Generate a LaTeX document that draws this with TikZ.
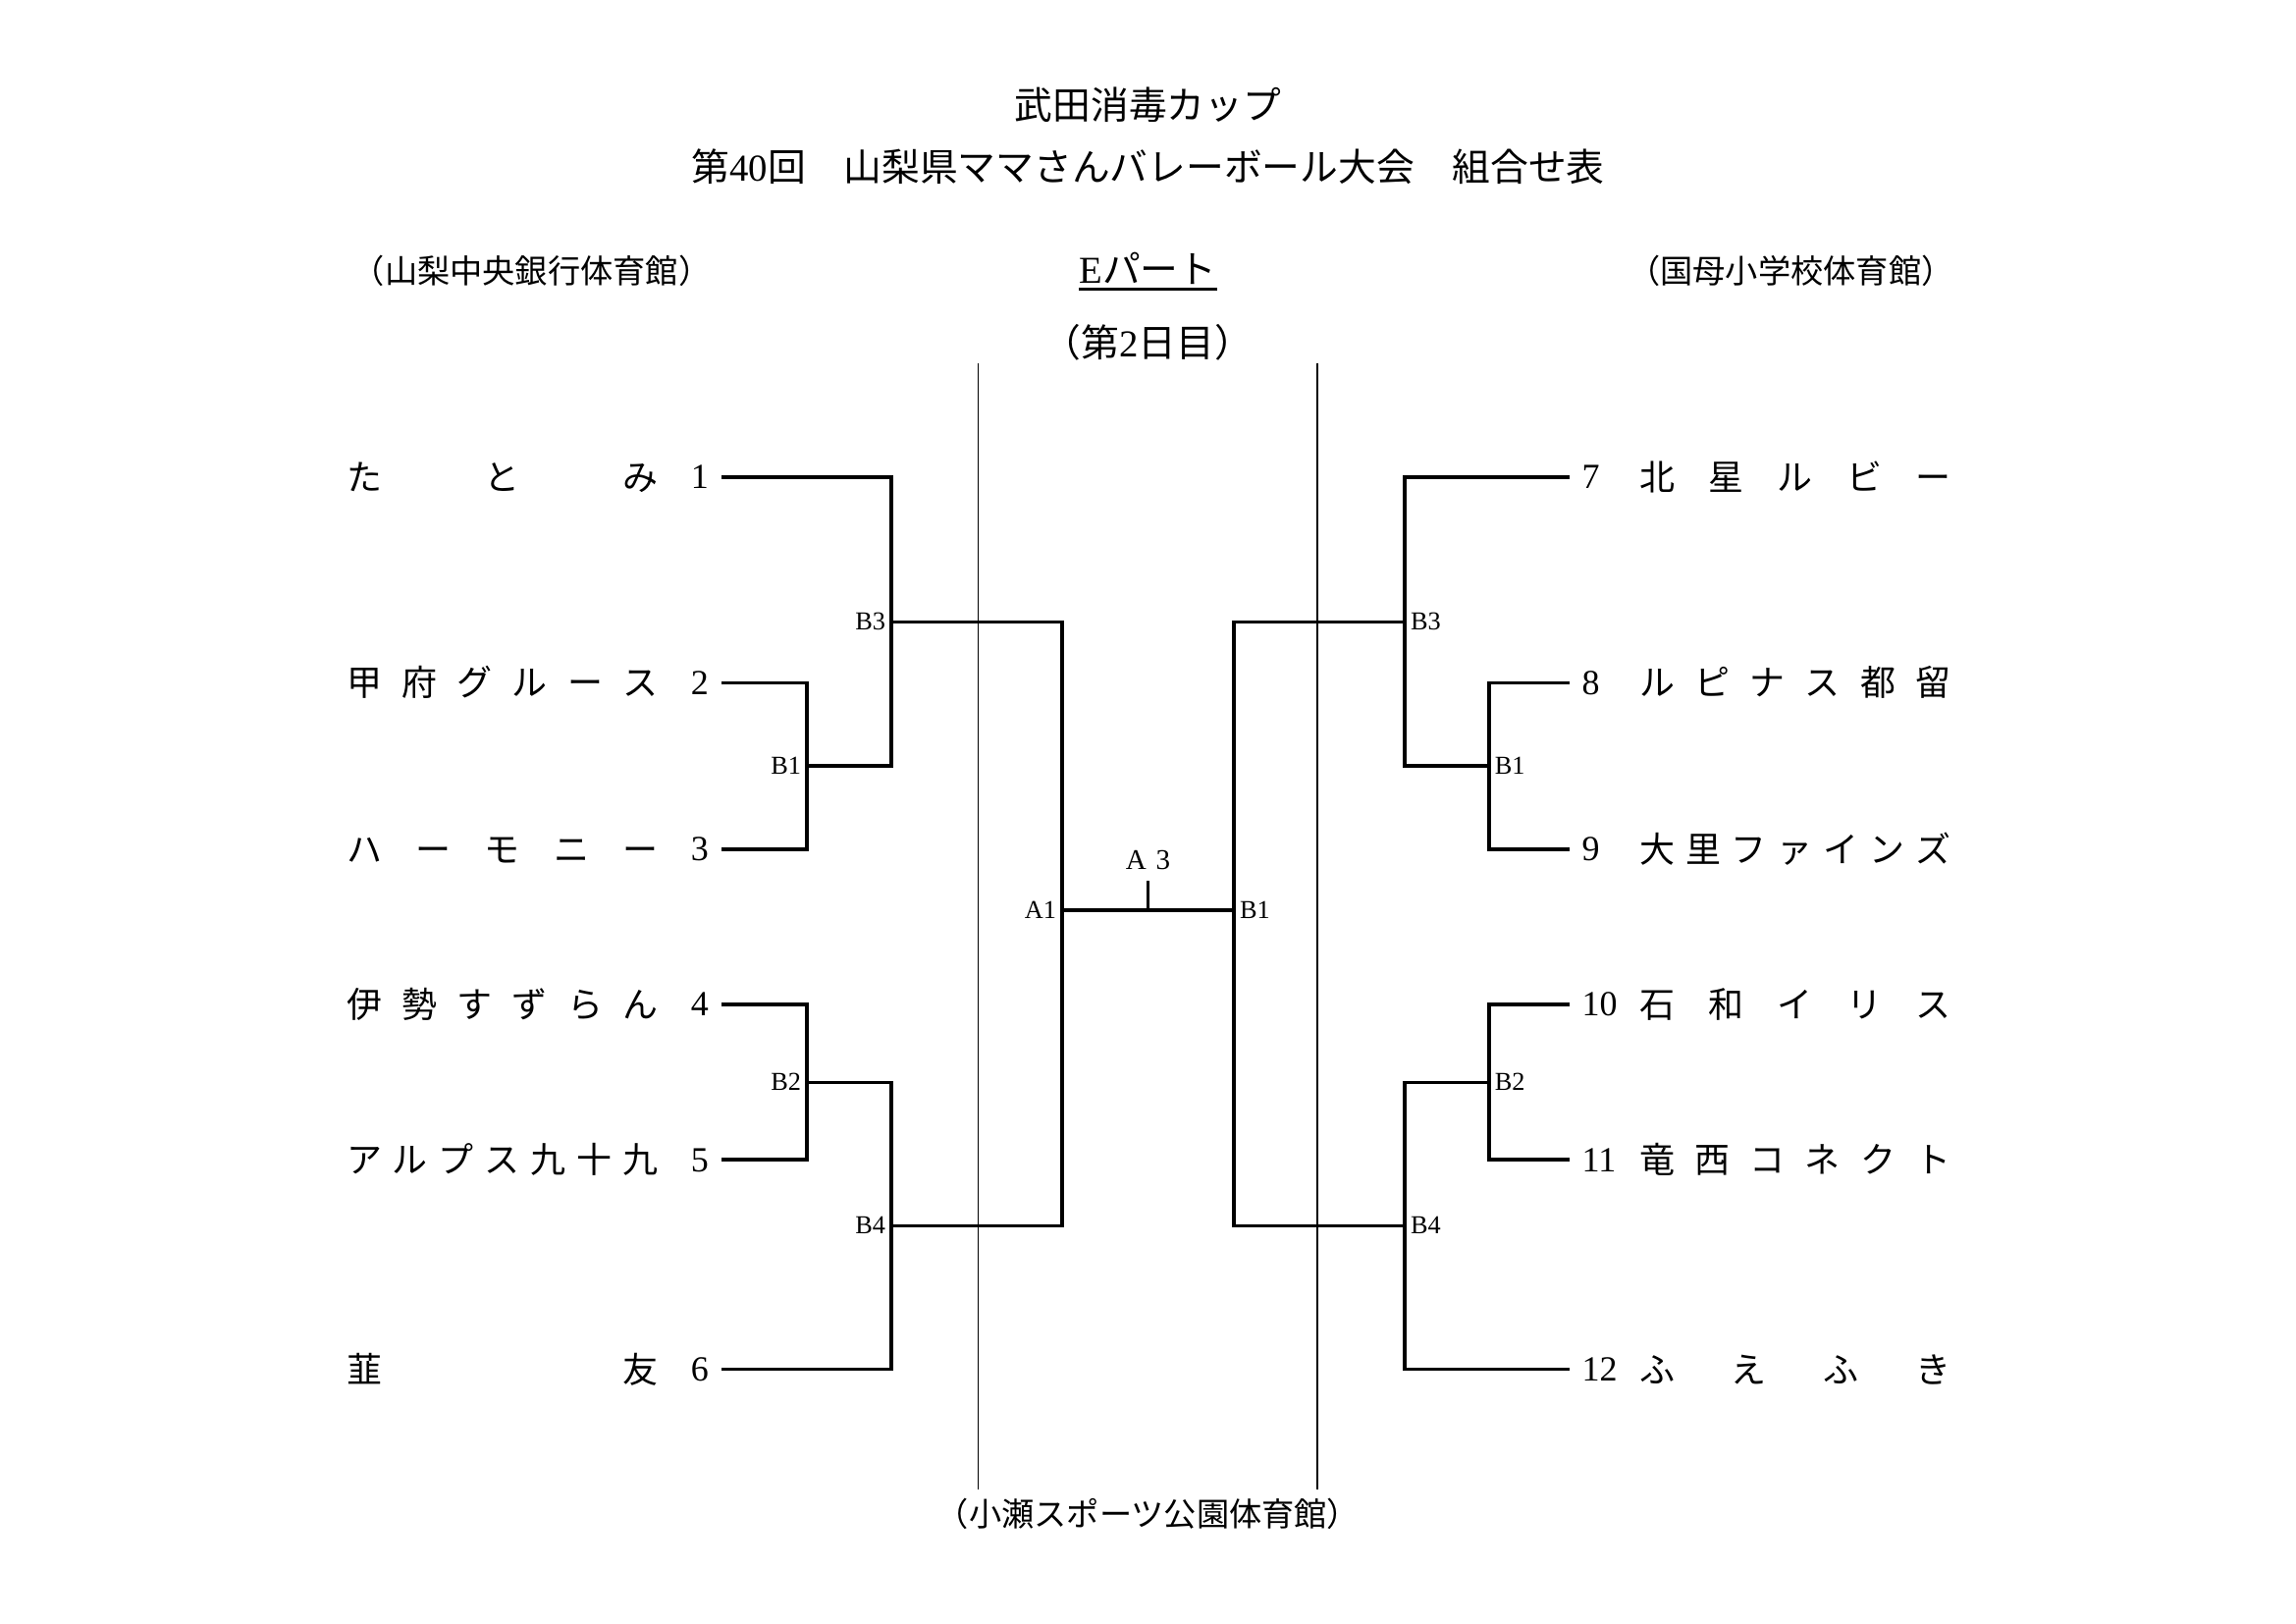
\documentclass[tikz,border=0pt]{standalone}
\usepackage{fontspec}
\setmainfont{Liberation Serif}
\newfontfamily\jp{Noto Sans CJK JP}
\usepackage{tikz}
\newcommand{\spread}[1]{\hbox to 4.03cm{#1}}

\begin{document}
\begin{tikzpicture}[
    team/.style={font=\jp\fontsize{13pt}{15pt}\selectfont, inner sep=0pt, text height=11.4pt, text depth=1.6pt},
    num/.style={font=\fontsize{13pt}{15pt}\selectfont, inner xsep=4.5pt, inner ysep=0pt, text height=8.6pt, text depth=0pt},
    lbl/.style={font=\fontsize{9.5pt}{11pt}\selectfont, inner sep=2pt},
    head/.style={font=\jp\fontsize{14pt}{17pt}\selectfont, inner sep=0pt},
    venue/.style={font=\jp\fontsize{12pt}{14pt}\selectfont, inner sep=0pt},
    bracket/.style={line width=1.2pt},
    leg/.style={line width=1.35pt},
    divider/.style={line width=0.4pt}
]
\useasboundingbox (0,0) rectangle (29.7,-21.0);

% titles
\node [head] (title1) at (14.85,-1.36) {武田消毒カップ};
\node [head] (title2) at (14.85,-2.15) {第{\rmfamily 40}回　山梨県ママさんバレーボール大会　組合せ表};
\node [venue, anchor=west] (venueL) at (4.55,-3.50) {（山梨中央銀行体育館）};
\node [venue, anchor=west] (venueR) at (21.05,-3.50) {（国母小学校体育館）};
\node [head, inner ysep=1.5pt] (part) at (14.85,-3.47) {{\rmfamily E}パート};
\draw [line width=1.2pt] (part.south west) -- (part.south east);
\node [head] (day) at (14.85,-4.43) {（第{\rmfamily 2}日目）};
\node [venue] (venueC) at (14.85,-19.58) {（小瀬スポーツ公園体育館）};

% dividers
\draw [divider] (12.65,-4.70) -- (12.65,-19.26);
\draw [divider] (17.04,-4.70) -- (17.04,-19.26);

% left teams
\node [team, anchor=east] (t1) at (8.52,-6.17) {\spread{た\hfill と\hfill み}};
\node [team, anchor=east] (t2) at (8.52,-8.83) {\spread{甲\hfill 府\hfill グ\hfill ル\hfill ー\hfill ス}};
\node [team, anchor=east] (t3) at (8.52,-10.98) {\spread{ハ\hfill ー\hfill モ\hfill ニ\hfill ー}};
\node [team, anchor=east] (t4) at (8.52,-12.99) {\spread{伊\hfill 勢\hfill す\hfill ず\hfill ら\hfill ん}};
\node [team, anchor=east] (t5) at (8.52,-15.00) {\spread{ア\hfill ル\hfill プ\hfill ス\hfill 九\hfill 十\hfill 九}};
\node [team, anchor=east] (t6) at (8.52,-17.71) {\spread{韮\hfill 友}};

\node [num, anchor=east] (n1) at (9.33,-6.17) {1};
\node [num, anchor=east] (n2) at (9.33,-8.83) {2};
\node [num, anchor=east] (n3) at (9.33,-10.98) {3};
\node [num, anchor=east] (n4) at (9.33,-12.99) {4};
\node [num, anchor=east] (n5) at (9.33,-15.00) {5};
\node [num, anchor=east] (n6) at (9.33,-17.71) {6};

% right teams
\node [num, anchor=west] (n7) at (20.30,-6.17) {7};
\node [num, anchor=west] (n8) at (20.30,-8.83) {8};
\node [num, anchor=west] (n9) at (20.30,-10.98) {9};
\node [num, anchor=west] (n10) at (20.30,-12.99) {10};
\node [num, anchor=west] (n11) at (20.30,-15.00) {11};
\node [num, anchor=west] (n12) at (20.30,-17.71) {12};

\node [team, anchor=west] (t7) at (21.20,-6.17) {\spread{北\hfill 星\hfill ル\hfill ビ\hfill ー}};
\node [team, anchor=west] (t8) at (21.20,-8.83) {\spread{ル\hfill ピ\hfill ナ\hfill ス\hfill 都\hfill 留}};
\node [team, anchor=west] (t9) at (21.20,-10.98) {\spread{大\hfill 里\hfill フ\hfill ァ\hfill イ\hfill ン\hfill ズ}};
\node [team, anchor=west] (t10) at (21.20,-12.99) {\spread{石\hfill 和\hfill イ\hfill リ\hfill ス}};
\node [team, anchor=west] (t11) at (21.20,-15.00) {\spread{竜\hfill 西\hfill コ\hfill ネ\hfill ク\hfill ト}};
\node [team, anchor=west] (t12) at (21.20,-17.71) {\spread{ふ\hfill え\hfill ふ\hfill き}};

% junctions
\coordinate [label={[lbl]left:B1}] (lb1) at (10.44,-9.905);
\coordinate [label={[lbl]left:B3}] (lb3) at (11.53,-8.04);
\coordinate [label={[lbl]left:B2}] (lb2) at (10.44,-13.995);
\coordinate [label={[lbl]left:B4}] (lb4) at (11.53,-15.85);
\coordinate [label={[lbl]left:A1}] (lfin) at (13.74,-11.77);
\coordinate [label={[lbl]right:B1}] (rb1) at (19.26,-9.905);
\coordinate [label={[lbl]right:B3}] (rb3) at (18.17,-8.04);
\coordinate [label={[lbl]right:B2}] (rb2) at (19.26,-13.995);
\coordinate [label={[lbl]right:B4}] (rb4) at (18.17,-15.85);
\coordinate [label={[lbl]right:B1}] (rfin) at (15.96,-11.77);
\coordinate (a3) at (14.85,-11.77);
\coordinate [label={[lbl, font=\fontsize{10.5pt}{12pt}\selectfont, inner sep=4pt]above:A\,\,3}] (a3top) at (14.85,-11.39);

% left bracket
\draw [leg] (n2.east) -| (lb1) |- (n3.east);
\draw [bracket] (n1.east) -| (lb3) |- (lb1);
\draw [leg] (n4.east) -| (lb2) |- (n5.east);
\draw [bracket] (lb2) -| (lb4) |- (n6.east);
\draw [bracket] (lb3) -| (lfin) |- (lb4);

% right bracket
\draw [leg] (n8.west) -| (rb1) |- (n9.west);
\draw [bracket] (n7.west) -| (rb3) |- (rb1);
\draw [leg] (n10.west) -| (rb2) |- (n11.west);
\draw [bracket] (rb2) -| (rb4) |- (n12.west);
\draw [bracket] (rb3) -| (rfin) |- (rb4);

% final
\draw [bracket] (lfin) -- (rfin);
\draw [bracket] (a3) -- (a3top);

\end{tikzpicture}
\end{document}
